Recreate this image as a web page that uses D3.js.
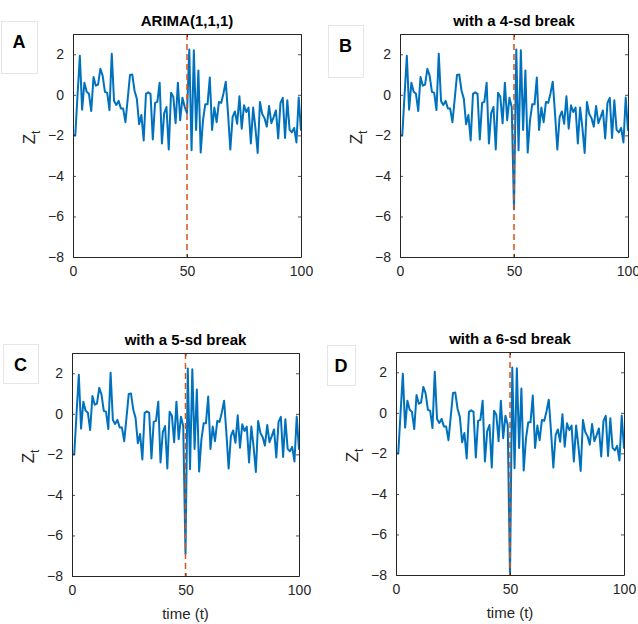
<!DOCTYPE html>
<html>
<head>
<meta charset="utf-8">
<script src="https://cdn.jsdelivr.net/npm/d3@7"></script>
<style>
  body { margin: 0; background: #fff; }
  text { font-family: "Liberation Sans", Arial, sans-serif; }
</style>
</head>
<body>
<div id="chart"></div>
<script>
// series, t = 0..100
var baseSeries = [
  -2.0, -2.0, 0.0, 1.93, -0.73, 0.6, 0.15, 0.05, -0.8, 0.88,
  0.45, 0.5, 1.28, 0.95, 0.15, 0.1, -0.75, 2.03, -0.3, -0.5,
  -0.3, -0.67, -0.68, -1.35, -0.2, 0.98, 1.0, 0.2, -0.2, -1.45,
  -1.0, -2.25, 0.05, 0.12, 0.05, -2.2, -0.4, -0.35, 0.6, -2.4,
  -0.9, -0.6, -2.7, 0.1, -0.1, -1.4, 0.6, -1.25, -0.15, -0.6,
  -0.9, 2.23, -2.73, 2.2, -1.73, 1.2, -2.85, -1.27, -0.47, -0.47,
  0.85, -1.73, -0.63, -1.35, -0.35, -0.4, 0.07, 0.65, -0.93, -2.7,
  -1.1, -0.82, -1.43, -0.07, -1.67, -0.52, -0.85, -0.63, -2.4, -0.63,
  -1.63, -2.87, -0.35, -0.95, -1.15, -1.57, -0.55, -1.4, -1.1, -0.77,
  -2.15, -0.4, -0.15, -2.13, -0.27, -1.73, -1.85, -1.63, -2.35, -0.13,
  -1.77
];
var panelLetters = ["A", "B", "C", "D"];
var panelTitles = ["ARIMA(1,1,1)", "with a 4-sd break", "with a 5-sd break", "with a 6-sd break"];
var breakValues = [-0.9, -5.65, -6.9, -8.1]; // value at t = 50 in each panel
var breakTime = 50;
var xTicks = [0, 50, 100];
var yTicks = [2, 0, -2, -4, -6, -8];

var svg = d3.select("#chart").append("svg")
  .attr("width", 638)
  .attr("height", 624);

// axes boxes for the four panels
var boxes = [
  {left: 73, top: 34, w: 228, h: 223, letterBox: [1, 21, 36, 52]},
  {left: 400, top: 34, w: 228, h: 223, letterBox: [328, 25, 35, 52]},
  {left: 72, top: 353, w: 227, h: 223, letterBox: [3, 344, 35, 39]},
  {left: 396, top: 352, w: 228, h: 223, letterBox: [327, 345, 28, 40]}
];

boxes.forEach(function(b, i) {
  var g = svg.append("g").attr("transform", `translate(${b.left}, ${b.top})`);

  var x = d3.scaleLinear().domain([0, 100]).range([0, b.w]);
  var y = d3.scaleLinear().domain([-8, 3]).range([b.h, 0]);

  var values = baseSeries.slice();
  values[breakTime] = breakValues[i];

  // clip to the axes
  svg.append("clipPath").attr("id", "clip" + i)
    .append("rect").attr("width", b.w).attr("height", b.h);

  var plot = g.append("g").attr("clip-path", `url(#clip${i})`);

  plot.append("path")
    .datum(values)
    .attr("fill", "none")
    .attr("stroke", "#0072BD")
    .attr("stroke-width", 2)
    .attr("stroke-linejoin", "round")
    .attr("d", d3.line().x((d, t) => x(t)).y(d => y(d)));

  plot.append("line")
    .attr("x1", x(breakTime)).attr("x2", x(breakTime))
    .attr("y1", 0).attr("y2", b.h)
    .attr("stroke", "#D95319")
    .attr("stroke-width", 1.5)
    .attr("stroke-dasharray", "6,4");

  // axes, MATLAB-like inward ticks
  var bottomAxis = d3.axisBottom(x).tickValues(xTicks).tickSizeInner(-3).tickSizeOuter(0).tickPadding(9);
  var leftAxis = d3.axisLeft(y).tickValues(yTicks).tickSizeInner(-3).tickSizeOuter(0).tickPadding(9);
  var topAxis = d3.axisTop(x).tickValues(xTicks).tickSizeInner(-3).tickSizeOuter(0).tickFormat("");
  var rightAxis = d3.axisRight(y).tickValues(yTicks).tickSizeInner(-3).tickSizeOuter(0).tickFormat("");

  var axes = [
    g.append("g").attr("transform", `translate(0, ${b.h})`).call(bottomAxis),
    g.append("g").call(leftAxis),
    g.append("g").call(topAxis),
    g.append("g").attr("transform", `translate(${b.w}, 0)`).call(rightAxis)
  ];
  axes.forEach(function(a) {
    a.select(".domain").attr("stroke", "#262626").attr("stroke-width", 1);
    a.selectAll(".tick line").attr("stroke", "#262626").attr("stroke-width", 0.8);
    a.selectAll(".tick text")
      .attr("fill", "#262626")
      .style("font-size", "14px")
      .style("font-family", "Liberation Sans, Arial, sans-serif");
  });

  // title
  g.append("text")
    .attr("x", b.w / 2)
    .attr("y", -8)
    .attr("text-anchor", "middle")
    .attr("font-weight", "bold")
    .style("font-size", "15px")
    .attr("fill", "#000")
    .text(panelTitles[i]);

  // y label Z_t
  var yl = g.append("text")
    .attr("transform", `translate(-38, ${b.h / 2 - 8}) rotate(-90)`)
    .attr("text-anchor", "middle")
    .attr("fill", "#262626")
    .style("font-size", "17px");
  yl.append("tspan").text("Z");
  yl.append("tspan").attr("dy", 5).style("font-size", "12px").text("t");

  // x label for bottom row
  if (i >= 2) {
    g.append("text")
      .attr("x", b.w / 2)
      .attr("y", b.h + 43)
      .attr("text-anchor", "middle")
      .attr("fill", "#262626")
      .style("font-size", "15px")
      .text("time (t)");
  }

  // panel letter box
  var lb = b.letterBox;
  svg.append("rect")
    .attr("x", lb[0] + 0.5).attr("y", lb[1] + 0.5)
    .attr("width", lb[2]).attr("height", lb[3])
    .attr("fill", "#fff")
    .attr("stroke", "#e6e6e6");
  svg.append("text")
    .attr("x", lb[0] + lb[2] / 2)
    .attr("y", lb[1] + 27)
    .attr("text-anchor", "middle")
    .attr("font-weight", "bold")
    .style("font-size", "18px")
    .text(panelLetters[i]);
});
</script>
</body>
</html>
